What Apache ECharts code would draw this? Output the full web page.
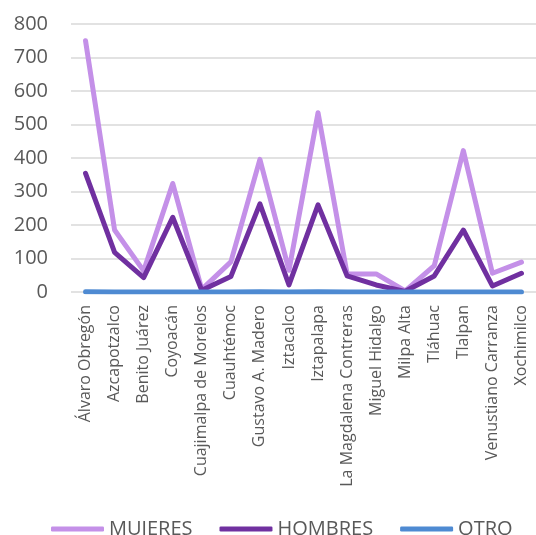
<!DOCTYPE html>
<html>
<head>
<meta charset="utf-8">
<script src="https://cdn.jsdelivr.net/npm/echarts@6/dist/echarts.min.js"></script>
<style>
  html, body { margin: 0; padding: 0; background: #fff; }
  #chart { width: 536px; height: 535px; }
</style>
</head>
<body>
<div id="chart"></div>
<script>
// alcaldías
const alcaldias = ['Álvaro Obregón', 'Azcapotzalco', 'Benito Juárez', 'Coyoacán',
  'Cuajimalpa de Morelos', 'Cuauhtémoc', 'Gustavo A. Madero', 'Iztacalco', 'Iztapalapa',
  'La Magdalena Contreras', 'Miguel Hidalgo', 'Milpa Alta', 'Tláhuac', 'Tlalpan',
  'Venustiano Carranza', 'Xochimilco'];
const mujeres = [750, 185, 63, 324, 8, 90, 396, 65, 535, 54, 54, 3, 79, 422, 56, 89];
const hombres = [354, 118, 43, 223, 5, 46, 263, 21, 260, 48, 21, 2, 48, 185, 18, 56];
const otro = [1, 0, 0, 0, 0, 0, 1, 0, 1, 0, 0, 0, 0, 0, 0, 0];
const yTicks = [0, 100, 200, 300, 400, 500, 600, 700, 800];

const colors = ['#C490E8', '#7030A0', '#4E8AD2'];
const font = '"Open Sans", sans-serif';

let myChart = echarts.init(document.getElementById('chart'));

function linea(nombre, datos, color) {
  return {
    name: nombre,
    type: 'line',
    data: datos,
    symbol: 'none',
    lineStyle: { color: color, width: 5, cap: 'round', join: 'round' },
    itemStyle: { color: color }
  };
}

let option = {
  animation: false,
  color: colors,
  grid: { left: 71, top: 24, width: 475, height: 268 },
  legend: {
    left: 46,
    top: 514,
    itemWidth: 53,
    itemHeight: 5,
    itemGap: 27,
    icon: 'roundRect',
    textStyle: { fontFamily: font, fontSize: 20, color: '#595959' },
    data: ['MUJERES', 'HOMBRES', 'OTRO']
  },
  xAxis: {
    type: 'category',
    data: alcaldias,
    boundaryGap: true,
    axisLine: { show: false },
    axisTick: { show: false },
    axisLabel: {
      rotate: 90,
      interval: 0,
      margin: 13,
      fontFamily: font,
      fontSize: 16,
      color: '#595959'
    }
  },
  yAxis: {
    type: 'value',
    min: yTicks[0],
    max: yTicks[yTicks.length - 1],
    interval: 100,
    axisLine: { show: false },
    axisTick: { show: false },
    splitLine: { lineStyle: { color: '#d9d9d9', width: 1.5 } },
    axisLabel: {
      margin: 23,
      fontFamily: font,
      fontSize: 20,
      color: '#595959'
    }
  },
  series: [
    linea('MUJERES', mujeres, colors[0]),
    linea('HOMBRES', hombres, colors[1]),
    linea('OTRO', otro, colors[2])
  ]
};
myChart.setOption(option);
</script>
</body>
</html>
